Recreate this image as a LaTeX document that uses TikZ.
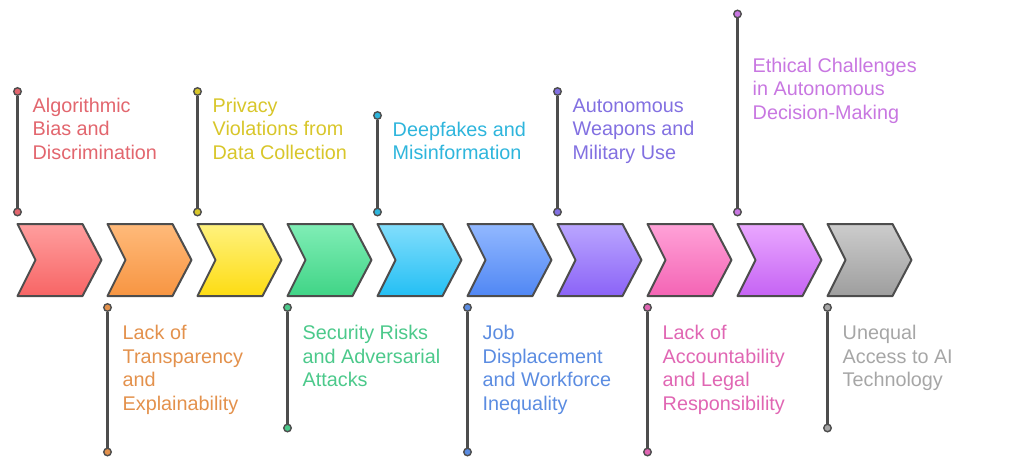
\documentclass[tikz,border=0pt]{standalone}
\usepackage{fontspec}
\setmainfont{Liberation Sans}
\definecolor{strokegray}{HTML}{4D4D4D}
% chevron fills (top / bottom)
\definecolor{redT}{HTML}{FF9E9E}\definecolor{redB}{HTML}{F76565}
\definecolor{orgT}{HTML}{FFBA7A}\definecolor{orgB}{HTML}{F79542}
\definecolor{yelT}{HTML}{FFF27E}\definecolor{yelB}{HTML}{FDDC12}
\definecolor{grnT}{HTML}{80EEB6}\definecolor{grnB}{HTML}{40D486}
\definecolor{cyaT}{HTML}{82DEFC}\definecolor{cyaB}{HTML}{24BFF4}
\definecolor{bluT}{HTML}{92B8FF}\definecolor{bluB}{HTML}{5087F4}
\definecolor{purT}{HTML}{BAA6FF}\definecolor{purB}{HTML}{8B63F7}
\definecolor{pnkT}{HTML}{FFA2D8}\definecolor{pnkB}{HTML}{F464B4}
\definecolor{vioT}{HTML}{EAA8FF}\definecolor{vioB}{HTML}{C563F4}
\definecolor{gryT}{HTML}{CCCCCC}\definecolor{gryB}{HTML}{9E9E9E}
% text / dot colours
\definecolor{redC}{HTML}{E2666E}
\definecolor{orgC}{HTML}{E3914C}
\definecolor{yelC}{HTML}{D8C62A}
\definecolor{grnC}{HTML}{4CC98B}
\definecolor{cyaC}{HTML}{2EB5DC}
\definecolor{bluC}{HTML}{5B8CE1}
\definecolor{purC}{HTML}{8270E1}
\definecolor{pnkC}{HTML}{E066B3}
\definecolor{vioC}{HTML}{C877E1}
\definecolor{gryC}{HTML}{A6A6A6}
\tikzset{
  chev/.style={draw=strokegray, line width=2pt, line join=round},
  stem/.style={draw=strokegray, line width=2.2pt},
  dot/.style={circle, draw=strokegray, line width=1.4pt, minimum size=7.5pt, inner sep=0pt},
  lbl/.style={anchor=base west, inner sep=0pt, font=\fontsize{19.8}{23.5}\selectfont},
}
\newcommand\chevshape[4]{% name, left x, top colour, bottom colour
  \coordinate (#1) at (#2,224);
  \path[chev, top color=#3, bottom color=#4] (#1) -- ++(65,0) -- ++(19,36) -- ++(-19,36) -- ++(-65,0) -- ++(18,-36) -- cycle;}
\newcommand\lines[1]{\begin{tabular}[t]{@{}l@{}}#1\end{tabular}}
\begin{document}
\begin{tikzpicture}[x=1pt,y=-1pt]
\useasboundingbox (0,0) rectangle (1012,461);
% chevrons
\chevshape{c0}{17.5}{redT}{redB}
\chevshape{c1}{107.5}{orgT}{orgB}
\chevshape{c2}{197.5}{yelT}{yelB}
\chevshape{c3}{287.5}{grnT}{grnB}
\chevshape{c4}{377.5}{cyaT}{cyaB}
\chevshape{c5}{467.5}{bluT}{bluB}
\chevshape{c6}{557.5}{purT}{purB}
\chevshape{c7}{647.5}{pnkT}{pnkB}
\chevshape{c8}{737.5}{vioT}{vioB}
\chevshape{c9}{827.5}{gryT}{gryB}
% top stems
\node[dot, fill=redC] (d0a) at (17.5,91.5) {};
\node[dot, fill=redC] (d0b) at (17.5,212) {};
\node[dot, fill=yelC] (d2a) at (197.5,91.5) {};
\node[dot, fill=yelC] (d2b) at (197.5,212) {};
\node[dot, fill=cyaC] (d4a) at (377.5,115.5) {};
\node[dot, fill=cyaC] (d4b) at (377.5,212) {};
\node[dot, fill=purC] (d6a) at (557.5,91.5) {};
\node[dot, fill=purC] (d6b) at (557.5,212) {};
\node[dot, fill=vioC] (d8a) at (737.5,14) {};
\node[dot, fill=vioC] (d8b) at (737.5,212) {};
% bottom stems
\node[dot, fill=orgC] (d1a) at (107.5,307.5) {};
\node[dot, fill=orgC] (d1b) at (107.5,452) {};
\node[dot, fill=grnC] (d3a) at (287.5,307.5) {};
\node[dot, fill=grnC] (d3b) at (287.5,428) {};
\node[dot, fill=bluC] (d5a) at (467.5,307.5) {};
\node[dot, fill=bluC] (d5b) at (467.5,452) {};
\node[dot, fill=pnkC] (d7a) at (647.5,307.5) {};
\node[dot, fill=pnkC] (d7b) at (647.5,452) {};
\node[dot, fill=gryC] (d9a) at (827.5,307.5) {};
\node[dot, fill=gryC] (d9b) at (827.5,428) {};
\foreach \i in {0,...,9} \draw[stem] (d\i a) -- (d\i b);
% labels
\node[lbl, text=redC] (t0) at (32.5,112) {\lines{Algorithmic\\Bias and\\Discrimination}};
\node[lbl, text=orgC] (t1) at (122.5,339.5) {\lines{Lack of\\Transparency\\and\\Explainability}};
\node[lbl, text=yelC] (t2) at (212.5,112) {\lines{Privacy\\Violations from\\Data Collection}};
\node[lbl, text=grnC] (t3) at (302.5,339.5) {\lines{Security Risks\\and Adversarial\\Attacks}};
\node[lbl, text=cyaC] (t4) at (392.5,136) {\lines{Deepfakes and\\Misinformation}};
\node[lbl, text=bluC] (t5) at (482.5,339.5) {\lines{Job\\Displacement\\and Workforce\\Inequality}};
\node[lbl, text=purC] (t6) at (572.5,112) {\lines{Autonomous\\Weapons and\\Military Use}};
\node[lbl, text=pnkC] (t7) at (662.5,339.5) {\lines{Lack of\\Accountability\\and Legal\\Responsibility}};
\node[lbl, text=vioC] (t8) at (752.5,72) {\lines{Ethical Challenges\\in Autonomous\\Decision-Making}};
\node[lbl, text=gryC] (t9) at (842.5,339.5) {\lines{Unequal\\Access to AI\\Technology}};
\end{tikzpicture}
\end{document}
